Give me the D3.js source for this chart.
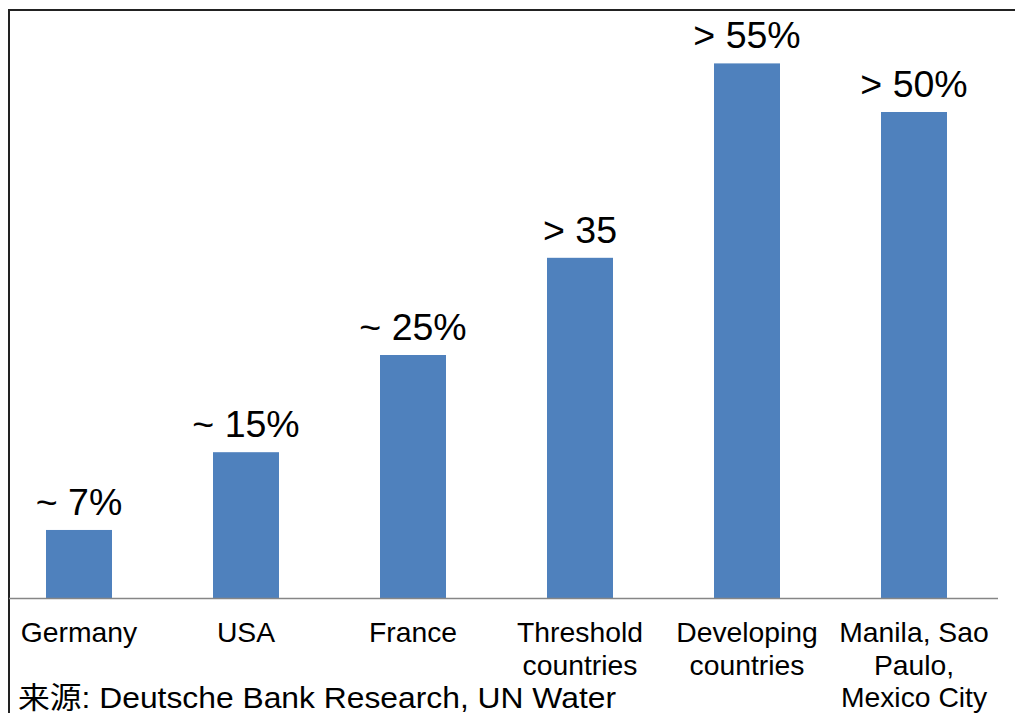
<!DOCTYPE html>
<html><head><meta charset="utf-8">
<script src="https://cdn.jsdelivr.net/npm/d3@7"></script>
<style>
html,body{margin:0;padding:0;background:#fff;}
svg{display:block;font-family:"Liberation Sans",Arial,"Noto Sans CJK SC",sans-serif;}
</style></head>
<body>
<svg id="c" width="1015" height="713"></svg>
<script>
const categories = ["Germany", "USA", "France", "Threshold\ncountries", "Developing\ncountries", "Manila, Sao\nPaulo,\nMexico City"];
const values = [7, 15, 25, 35, 55, 50];
const valueLabels = ["~ 7%", "~ 15%", "~ 25%", "> 35", "> 55%", "> 50%"];
const sourceText = "来源: Deutsche Bank Research, UN Water";

const svg = d3.select("#c");
const x = d3.scaleBand().domain(categories).range([-4.5, 997.5]).paddingInner(0.6048).paddingOuter(0.3024);
const y = d3.scaleLinear().domain([0, 60]).range([598, 14.8]);

// frame
svg.append("path").attr("d", "M9,713 L9,10 L1015,10")
  .attr("fill", "none").attr("stroke", "#222").attr("stroke-width", 2);

// bars
svg.selectAll("rect.bar").data(values).enter().append("rect")
  .attr("class", "bar")
  .attr("x", (d, i) => x(categories[i]))
  .attr("y", d => y(d))
  .attr("width", x.bandwidth())
  .attr("height", d => y(0) - y(d))
  .attr("fill", "#4f81bd");

// value labels
svg.selectAll("text.vl").data(values).enter().append("text")
  .attr("class", "vl")
  .attr("x", (d, i) => x(categories[i]) + x.bandwidth() / 2)
  .attr("y", d => y(d) - 15)
  .attr("text-anchor", "middle")
  .attr("font-size", 37.5)
  .attr("fill", "#000")
  .text((d, i) => valueLabels[i]);

// x axis
const ax = svg.append("g").attr("transform", "translate(0,598)")
  .call(d3.axisBottom(x).tickSize(0).tickPadding(0));
ax.select(".domain").remove();
ax.selectAll(".tick text").each(function(d) {
  const t = d3.select(this);
  t.text(null).attr("dy", null).attr("y", 44).attr("font-size", 28.3)
    .attr("fill", "#000").attr("font-family", "Liberation Sans, Arial, sans-serif");
  d.split("\n").forEach((line, i) => {
    t.append("tspan").attr("x", 0).attr("y", 44 + i * 32.5).text(line);
  });
});
svg.append("line").attr("x1", 9).attr("x2", 998).attr("y1", 598.5).attr("y2", 598.5)
  .attr("stroke", "#868686").attr("stroke-width", 1.5);

// source
svg.append("text").attr("x", 18).attr("y", 708).attr("font-size", 29.5).attr("fill", "#000")
  .attr("textLength", 598).attr("lengthAdjust", "spacingAndGlyphs")
  .text(sourceText);
</script>
</body></html>
